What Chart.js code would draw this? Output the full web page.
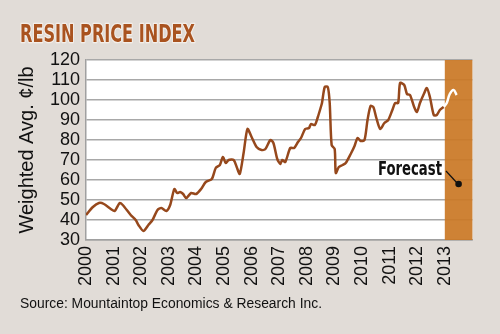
<!DOCTYPE html>
<html>
<head>
<meta charset="utf-8">
<script src="https://cdn.jsdelivr.net/npm/chart.js@4.4.0/dist/chart.umd.min.js"></script>
<style>
html, body { margin: 0; padding: 0; background: #e1dcd7; }
#wrap { width: 500px; height: 334px; position: relative; }
</style>
</head>
<body>
<div id="wrap"><canvas id="resinChart"></canvas></div>
<script>
// Resin price index, cents per lb
var years = [
    2000.00, 2000.25, 2000.47, 2000.65, 2000.90, 2001.04, 2001.22, 2001.33, 2001.62, 2001.80,
    2001.90, 2002.08, 2002.26, 2002.41, 2002.59, 2002.73, 2002.91, 2003.05, 2003.20, 2003.30,
    2003.41, 2003.52, 2003.63, 2003.81, 2003.99, 2004.17, 2004.34, 2004.56, 2004.70, 2004.85,
    2004.96, 2005.06, 2005.17, 2005.35, 2005.46, 2005.57, 2005.71, 2005.85, 2006.00, 2006.18,
    2006.36, 2006.50, 2006.68, 2006.79, 2006.93, 2007.04, 2007.11, 2007.22, 2007.40, 2007.54,
    2007.68, 2007.79, 2007.94, 2008.08, 2008.15, 2008.29, 2008.40, 2008.51, 2008.55, 2008.65,
    2008.76, 2008.83, 2008.90, 2009.01, 2009.05, 2009.16, 2009.30, 2009.41, 2009.59, 2009.73,
    2009.84, 2009.95, 2010.09, 2010.20, 2010.31, 2010.41, 2010.52, 2010.66, 2010.81, 2010.95,
    2011.10, 2011.20, 2011.31, 2011.38, 2011.53, 2011.63, 2011.74, 2011.89, 2011.99, 2012.10,
    2012.24, 2012.35, 2012.46, 2012.60, 2012.71, 2012.82, 2012.96
];
var prices = [
    42.5, 46.5, 48.5, 48, 45.5, 44.5, 48.5, 47.5, 42.5, 40,
    37.5, 34.5, 37.5, 40, 45, 46, 44.5, 47.5, 55.5, 53.5,
    54, 53, 51, 53.5, 53, 55.5, 59, 60.5, 66, 67.5,
    71.5, 68.5, 70, 70, 66.5, 63, 73.5, 85.5, 81.5, 76.5,
    75, 75.5, 80, 78.5, 70.5, 68, 70, 69, 76, 76,
    79, 81, 85.5, 86, 88, 87.5, 91.5, 96.5, 98.5, 106.5,
    106.5, 98.5, 77.5, 75.5, 63.5, 66.5, 67.5, 68.5, 73, 77,
    81, 79.5, 80, 90, 97, 96.5, 91, 85.5, 88.5, 90,
    95, 98.5, 98.5, 108.5, 107.5, 103, 102.5, 96.5, 94, 98.5,
    103, 106, 101.5, 92.5, 92.5, 95, 96.5
];
var forecastYears = [2012.96, 2013.07, 2013.18, 2013.32, 2013.43];
var forecastPrices = [96.5, 98.5, 103, 105, 102.5];
var yearLabels = ['2000', '2001', '2002', '2003', '2004', '2005', '2006',
                  '2007', '2008', '2009', '2010', '2011', '2012', '2013'];
var forecastStart = 2013;
var forecastMarker = {x: 2013.5, y: 58};

function toPoints(xs, ys) {
    return xs.map(function (x, i) { return {x: x, y: ys[i]}; });
}

// draw text squeezed/stretched to a given width
function fitText(ctx, text, x, y, width, stroke) {
    var w = ctx.measureText(text).width;
    ctx.save();
    ctx.translate(x, y);
    ctx.scale(width / w, 1);
    if (stroke) ctx.strokeText(text, 0, 0);
    ctx.fillText(text, 0, 0);
    ctx.restore();
}

var decorPlugin = {
    id: 'decor',
    beforeDraw: function (chart) {
        var ctx = chart.ctx, a = chart.chartArea;
        ctx.save();
        ctx.fillStyle = '#e1dcd7';
        ctx.fillRect(0, 0, chart.width, chart.height);
        ctx.fillStyle = '#ffffff';
        ctx.fillRect(a.left, a.top, a.right - a.left, a.bottom - a.top);
        ctx.restore();
    },
    beforeDatasetsDraw: function (chart) {
        var ctx = chart.ctx, a = chart.chartArea;
        var x0 = chart.scales.x.getPixelForValue(forecastStart);
        ctx.save();
        ctx.fillStyle = 'rgba(202, 120, 38, 0.93)';
        ctx.fillRect(x0, a.top, a.right - x0, a.bottom - a.top);
        ctx.restore();
    },
    afterDatasetsDraw: function (chart) {
        var ctx = chart.ctx;
        var mx = chart.scales.x.getPixelForValue(forecastMarker.x);
        var my = chart.scales.y.getPixelForValue(forecastMarker.y);
        ctx.save();
        // Forecast callout
        ctx.fillStyle = '#111';
        ctx.font = 'bold 19px "Liberation Sans Narrow", "DejaVu Sans Condensed", sans-serif';
        ctx.textBaseline = 'alphabetic';
        fitText(ctx, 'Forecast', 378, 175, 64);
        ctx.strokeStyle = '#111';
        ctx.lineWidth = 1.2;
        ctx.beginPath();
        ctx.moveTo(446, 171);
        ctx.lineTo(mx - 2, my - 1.5);
        ctx.stroke();
        ctx.beginPath();
        ctx.arc(mx, my, 3.3, 0, Math.PI * 2);
        ctx.fill();
        ctx.restore();
    },
    afterDraw: function (chart) {
        var ctx = chart.ctx;
        ctx.save();
        ctx.font = 'bold 24px "Liberation Sans Narrow", "DejaVu Sans Condensed", sans-serif';
        ctx.fillStyle = '#a9531f';
        ctx.strokeStyle = '#f4efea';
        ctx.lineWidth = 2.5;
        ctx.lineJoin = 'round';
        fitText(ctx, 'RESIN PRICE INDEX', 20, 42, 175, true);
        ctx.font = '14px "Liberation Sans", Arial, sans-serif';
        ctx.fillStyle = '#111';
        fitText(ctx, 'Source: Mountaintop Economics & Research Inc.', 20, 308, 302);
        ctx.restore();
    }
};

var resinChart = new Chart(document.getElementById('resinChart'), {
    type: 'line',
    data: {
        datasets: [{
            label: 'Resin price index',
            data: toPoints(years, prices),
            borderColor: '#96481c',
            borderWidth: 2.5,
            pointRadius: 0,
            tension: 0.25,
            fill: false
        }, {
            label: 'Forecast',
            data: toPoints(forecastYears, forecastPrices),
            borderColor: '#ffffff',
            borderWidth: 2.5,
            pointRadius: 0,
            tension: 0.35,
            fill: false
        }]
    },
    options: {
        responsive: true,
        maintainAspectRatio: false,
        animation: false,
        layout: {
            padding: {left: 15, top: 60, right: 24, bottom: 0}
        },
        plugins: {
            legend: {display: false},
            tooltip: {enabled: false}
        },
        scales: {
            x: {
                type: 'linear',
                min: 2000,
                max: 2014,
                afterFit: function (scale) { scale.height = 94; },
                grid: {display: false, drawTicks: false},
                border: {display: true, color: '#a0a0a0', width: 1.5},
                ticks: {
                    stepSize: 1,
                    autoSkip: false,
                    maxRotation: 90,
                    minRotation: 90,
                    padding: 6,
                    color: '#111',
                    font: {size: 18, family: '"Liberation Sans", Arial, sans-serif'},
                    callback: function (value) {
                        return yearLabels[value - 2000] || '';
                    }
                }
            },
            y: {
                min: 30,
                max: 120,
                afterFit: function (scale) { scale.width = 71; },
                grid: {color: '#a8a8a8', lineWidth: 1.5, drawTicks: false},
                border: {display: true, color: '#a0a0a0', width: 1.5},
                title: {
                    display: true,
                    text: 'Weighted Avg. ¢/lb',
                    color: '#111',
                    padding: 0,
                    font: {size: 20, family: '"Liberation Sans", Arial, sans-serif'}
                },
                ticks: {
                    stepSize: 10,
                    autoSkip: false,
                    padding: 6,
                    color: '#111',
                    font: {size: 18, family: '"Liberation Sans", Arial, sans-serif'}
                }
            }
        }
    },
    plugins: [decorPlugin]
});
</script>
</body>
</html>
